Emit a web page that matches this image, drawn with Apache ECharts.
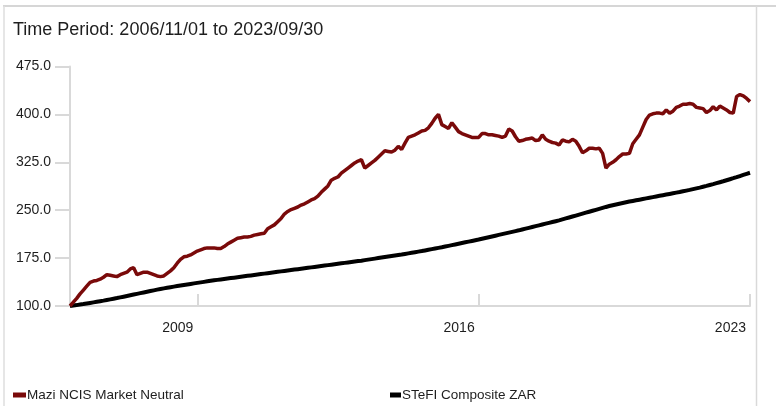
<!DOCTYPE html>
<html>
<head>
<meta charset="utf-8">
<script src="https://cdn.jsdelivr.net/npm/echarts@6/dist/echarts.min.js"></script>
<style>
html,body{margin:0;padding:0;background:#fff;}
#chart{width:776px;height:406px;}
</style>
</head>
<body>
<div id="chart"></div>
<script>
// Monthly points from 2006-10 (start = 100) to 2023-09
var startYear = 2006, startMonth = 10, monthCount = 204;
var labeledYears = ['2009', '2016', '2023'];
var labeledIndices = [38, 122, 203];
var yTicks = [100, 175, 250, 325, 400, 475];

var seriesNames = ['Mazi NCIS Market Neutral', 'STeFI Composite ZAR'];

var mazi = [
100,106,112,
119,125,131,137,139,140,142,145,149,148,147,146,
149,151,153,158,160,149,151,153,153,151,149,147,
146,147,151,155,160,167,173,177,178,180,183,186,
188,190,191,191,191,190,190,193,197,200,203,206,
207,208,208,209,211,212,213,214,221,224,227,232,
237,244,248,251,253,255,258,260,263,266,268,272,
278,283,288,297,300,302,308,312,316,320,324,327,
329,316,320,324,328,333,338,343,342,341,344,350,
345,355,364,366,368,371,374,375,379,386,394,400,
384,381,378,387,380,373,370,368,366,364,364,364,
370,370,368,368,367,366,364,366,377,374,365,358,
359,361,362,363,359,360,368,361,358,356,355,352,
360,358,357,361,358,350,340,343,347,347,346,347,
339,316,322,325,329,334,338,338,339,354,361,368,
380,392,399,401,402,402,401,407,402,405,411,413,
416,416,417,416,411,410,409,403,406,412,407,413,
410,407,403,402,428,431,429,425,420
];

var stefi = [
100.0,100.7,101.4,
102.2,103.0,103.9,104.8,105.7,106.6,107.5,108.4,109.4,110.4,111.4,112.4,
113.5,114.6,115.7,116.8,117.9,119.0,120.1,121.2,122.3,123.4,124.5,125.6,
126.6,127.6,128.5,129.4,130.3,131.2,132.1,133.0,133.8,134.6,135.4,136.2,
137.0,137.8,138.6,139.4,140.2,140.9,141.6,142.3,143.0,143.7,144.4,145.1,
145.8,146.5,147.2,147.9,148.6,149.3,150.0,150.7,151.4,152.1,152.8,153.5,
154.2,154.9,155.6,156.3,157.0,157.7,158.4,159.1,159.8,160.5,161.2,161.9,
162.6,163.3,164.0,164.7,165.4,166.1,166.8,167.5,168.2,168.9,169.6,170.3,
171.0,171.8,172.6,173.4,174.2,175.0,175.8,176.6,177.4,178.2,179.0,179.8,
180.6,181.5,182.4,183.3,184.2,185.1,186.0,187.0,188.0,189.0,190.0,191.0,
192.0,193.1,194.2,195.3,196.4,197.5,198.6,199.7,200.8,201.9,203.0,204.1,
205.3,206.5,207.7,208.9,210.1,211.3,212.5,213.7,214.9,216.1,217.3,218.5,
219.8,221.1,222.4,223.7,225.0,226.3,227.6,228.9,230.2,231.5,232.8,234.1,
235.6,237.1,238.6,240.1,241.6,243.1,244.6,246.1,247.6,249.1,250.6,252.1,
253.6,255.1,256.5,257.8,259.0,260.2,261.3,262.4,263.5,264.5,265.5,266.5,
267.5,268.5,269.5,270.5,271.5,272.5,273.5,274.5,275.5,276.5,277.5,278.5,
279.6,280.7,281.8,283.0,284.2,285.4,286.7,288.0,289.4,290.8,292.3,293.8,
295.3,296.9,298.5,300.1,301.8,303.5,305.2,306.9,308.6
];

var months = [];
for (var k = 0; k < monthCount; k++) {
  var m = startMonth - 1 + k;
  var yy = startYear + Math.floor(m / 12);
  var mm = (m % 12) + 1;
  months.push(yy + '-' + (mm < 10 ? '0' + mm : mm));
}

var chart = echarts.init(document.getElementById('chart'), null, {renderer: 'canvas'});
var axisGrey = '#d9d9d9';
var textCol = '#1e1e1e';
var font = 'Arial, "Liberation Sans", sans-serif';

chart.setOption({
  animation: false,
  textStyle: {fontFamily: font},
  title: {
    text: 'Time Period: 2006/11/01 to 2023/09/30',
    left: 8, top: 16,
    textStyle: {fontSize: 18, fontWeight: 'normal', color: textCol, fontFamily: font}
  },
  legend: [
    {
      data: [seriesNames[0]], left: 13, top: 388, padding: 0, icon: 'rect',
      itemWidth: 13, itemHeight: 5,
      textStyle: {fontSize: 13.5, color: textCol, fontFamily: font, padding: [0, 0, 0, -4]}
    },
    {
      data: [seriesNames[1]], left: 390, top: 388, padding: 0, icon: 'rect',
      itemWidth: 11, itemHeight: 5,
      textStyle: {fontSize: 13.5, color: textCol, fontFamily: font, padding: [0, 0, 0, -4]}
    }
  ],
  graphic: [
    {type: 'line', shape: {x1: 3, y1: 6, x2: 776, y2: 6}, style: {stroke: '#d6d6d6', lineWidth: 2}, silent: true},
    {type: 'line', shape: {x1: 4, y1: 6, x2: 4, y2: 406}, style: {stroke: '#dedede', lineWidth: 1.5}, silent: true},
    {type: 'line', shape: {x1: 756.5, y1: 6, x2: 756.5, y2: 406}, style: {stroke: '#d9d9d9', lineWidth: 1.5}, silent: true}
  ],
  grid: {left: 70, right: 26, top: 66.5, bottom: 100, containLabel: false},
  xAxis: {
    type: 'category',
    data: months,
    boundaryGap: false,
    axisLine: {show: true, lineStyle: {color: axisGrey, width: 2}},
    axisTick: {
      show: true, inside: true, length: 12,
      interval: function (i) { return labeledIndices.indexOf(i) >= 0; },
      lineStyle: {color: axisGrey, width: 2}
    },
    axisLabel: {
      interval: function (i) { return labeledIndices.indexOf(i) >= 0; },
      formatter: function (v, i) {
        var p = labeledIndices.indexOf(i);
        return p >= 0 ? labeledYears[p] : '';
      },
      align: 'right',
      padding: [0, 4, 0, 0],
      margin: 15,
      fontSize: 14,
      color: textCol,
      fontFamily: font
    },
    splitLine: {show: false}
  },
  yAxis: {
    type: 'value',
    min: yTicks[0], max: yTicks[yTicks.length - 1], interval: 75,
    axisLine: {show: true, lineStyle: {color: axisGrey, width: 2}},
    axisTick: {show: true, inside: false, length: 15, lineStyle: {color: axisGrey, width: 2}},
    axisLabel: {
      margin: 19, fontSize: 14, color: textCol, fontFamily: font,
      formatter: function (v) { return v.toFixed(1); }
    },
    splitLine: {show: false}
  },
  series: [
    {
      name: seriesNames[1], type: 'line', data: stefi, showSymbol: false, symbol: 'none',
      lineStyle: {color: '#000000', width: 4}, itemStyle: {color: '#000000'}, z: 2
    },
    {
      name: seriesNames[0], type: 'line', data: mazi, showSymbol: false, symbol: 'none',
      lineStyle: {color: '#7a0a0a', width: 3.5}, itemStyle: {color: '#7a0a0a'}, z: 3
    }
  ]
});
</script>
</body>
</html>
